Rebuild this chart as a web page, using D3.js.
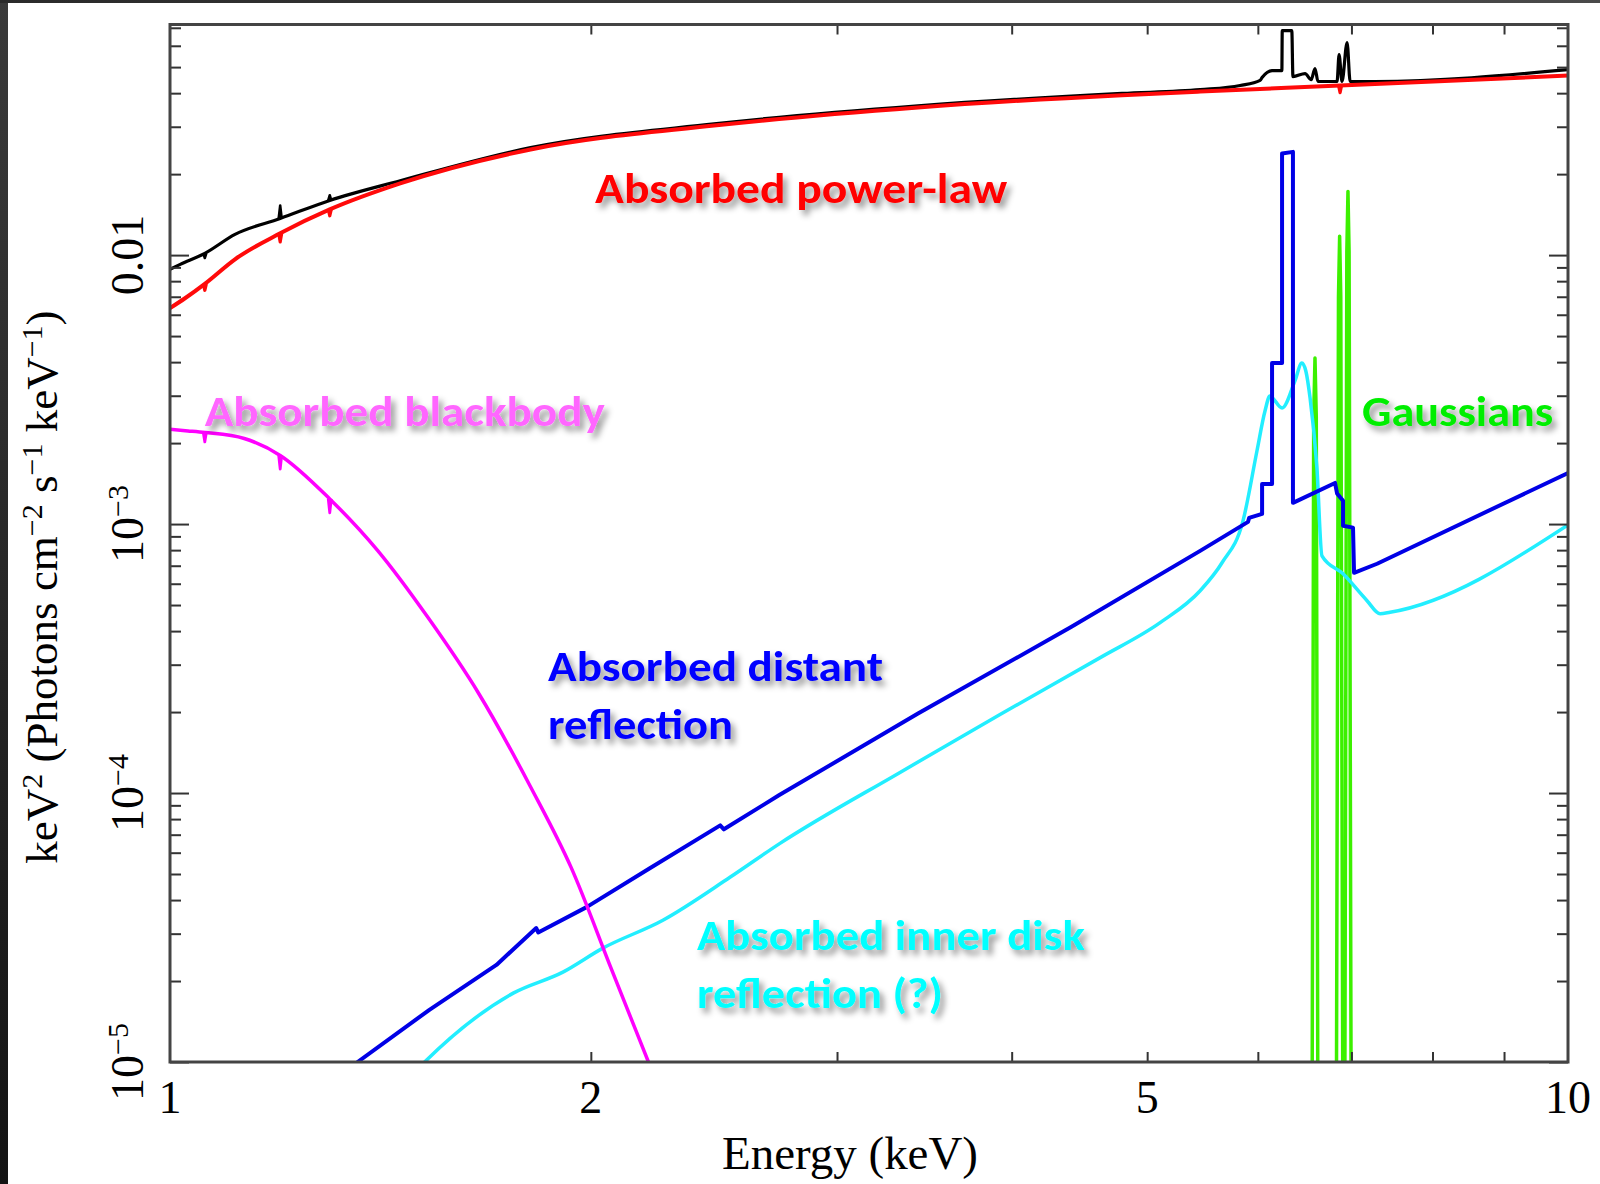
<!DOCTYPE html>
<html><head><meta charset="utf-8">
<script src="https://cdn.jsdelivr.net/npm/d3@7"></script>
<style>
html,body{margin:0;padding:0;background:#fff;}
svg{display:block;}
</style></head><body>
<svg id="chart" width="1600" height="1184"></svg>
<script>
// ---- data: [energy keV, keV^2 flux] ----
const totalModel = [
  [1.000,8.86e-3],[1.017,9.24e-3],[1.059,1.015e-2],[1.113,1.194e-2],[1.199,1.368e-2],
  [1.301,1.597e-2],[1.461,1.89e-2],[1.811,2.51e-2],[2.450,3.075e-2],[3.428,3.59e-2],
  [4.797,3.99e-2],[5.456,4.12e-2],[5.827,4.27e-2],[6.022,4.46e-2],[6.042,4.57e-2],
  [6.142,4.85e-2],[6.242,4.85e-2],[6.246,6.83e-2],[6.345,6.83e-2],[6.357,4.61e-2],
  [6.485,4.73e-2],[6.551,4.49e-2],[6.592,4.94e-2],[6.625,4.42e-2],[6.836,4.42e-2],
  [6.859,5.56e-2],[6.892,4.42e-2],[6.950,6.17e-2],[6.985,4.42e-2],[7.278,4.42e-2],[10.0,4.89e-2]
];
const totalNotches = [[1.059,1.015e-2,0.975e-2],[1.199,1.368e-2,1.53e-2],[1.301,1.597e-2,1.67e-2]];
const powerLaw = [
  [1.000,6.35e-3],[1.025,6.91e-3],[1.059,7.82e-3],[1.113,9.65e-3],[1.199,1.205e-2],
  [1.301,1.478e-2],[1.461,1.847e-2],[1.811,2.47e-2],[2.450,3.03e-2],[3.428,3.54e-2],
  [4.797,3.93e-2],[5.456,4.055e-2],[6.870,4.27e-2],[10.0,4.65e-2]
];
const powerLawNotches = [[1.059,7.82e-3,7.40e-3],[1.199,1.205e-2,1.12e-2],[1.301,1.478e-2,1.40e-2],[6.870,4.27e-2,4.02e-2]];
const blackbody = [
  [1.000,2.25e-3],[1.030,2.22e-3],[1.059,2.19e-3],[1.130,2.08e-3],[1.199,1.80e-3],
  [1.301,1.24e-3],[1.407,8.0e-4],[1.530,4.48e-4],[1.664,2.33e-4],[1.810,1.06e-4],
  [1.936,5.29e-5],[2.070,2.2e-5],[2.199,1.0e-5],[2.26,7.0e-6]
];
const blackbodyNotches = [[1.059,2.19e-3,2.02e-3],[1.199,1.80e-3,1.60e-3],[1.301,1.24e-3,1.10e-3]];
const distantRefl = [
  [1.340,8.8e-6],[1.362,1.0e-5],[1.533,1.563e-5],[1.712,2.296e-5],[1.828,3.148e-5],[1.834,3.03e-5],
  [1.986,3.765e-5],[2.204,5.25e-5],[2.475,7.58e-5],[2.490,7.33e-5],[2.728,9.83e-5],
  [3.428,1.975e-4],[4.411,4.14e-4],[5.456,7.95e-4],[5.904,1.019e-3],[5.914,1.054e-3],
  [6.042,1.091e-3],[6.042,1.41e-3],[6.142,1.41e-3],[6.142,3.97e-3],[6.244,3.97e-3],
  [6.244,2.388e-2],[6.357,2.42e-2],[6.357,1.199e-3],[6.813,1.422e-3],[6.836,1.30e-3],
  [6.904,1.22e-3],[6.904,9.85e-4],[7.018,9.7e-4],[7.030,6.59e-4],[7.302,7.12e-4],[10.0,1.549e-3]
];
const innerDiskRefl = [
  [1.500,9.3e-6],[1.521,1.0e-5],[1.760,1.803e-5],[1.910,2.158e-5],[2.040,2.65e-5],[2.252,3.366e-5],
  [2.515,4.86e-5],[2.731,6.5e-5],[3.328,1.193e-4],[3.924,1.958e-4],[4.628,3.187e-4],
  [5.108,4.30e-4],[5.456,5.65e-4],[5.656,7.18e-4],[5.855,1.028e-3],[5.991,1.869e-3],
  [6.071,2.633e-3],[6.120,2.99e-3],[6.244,2.70e-3],[6.377,3.40e-3],[6.451,3.97e-3],
  [6.494,3.70e-3],[6.539,2.94e-3],[6.613,1.617e-3],[6.668,7.62e-4],[6.904,6.53e-4],
  [7.182,5.19e-4],[7.338,4.64e-4],[7.460,4.70e-4],[10.0,9.93e-4]
];
const gaussianLines = [
  [[6.562,1.0e-5],[6.578,2.5e-3],[6.592,4.14e-3],[6.606,2.5e-3],[6.622,1.0e-5]],
  [[6.830,1.0e-5],[6.852,7.0e-3],[6.865,1.174e-2],[6.878,7.0e-3],[6.900,1.0e-5]],
  [[6.925,1.0e-5],[6.947,1.03e-2],[6.960,1.725e-2],[6.973,1.03e-2],[6.995,1.0e-5]]
];
const xTickValues = [1,2,5,10];
const xTickLabels = ["1","2","5","10"];
const yTickValues = [1e-5,1e-4,1e-3,1e-2];
const yTickBase = ["10","10","10","0.01"];
const yTickExp = ["\u22125","\u22124","\u22123",""];
const labelTexts = [
  ["Absorbed power-law"],
  ["Absorbed blackbody"],
  ["Absorbed distant","reflection"],
  ["Absorbed inner disk","reflection (?)"],
  ["Gaussians"]
];
const labelAnchors = [[2.014,1.557e-2],[1.059,2.315e-3],[1.864,2.618e-4],[2.382,2.604e-5],[7.124,2.315e-3]];

// ---- layout ----
const W=1600,H=1184;
const L=170,R=1568,T=24.5,B=1062;
const svg=d3.select("#chart");
const defs=svg.append("defs");
const gL=defs.append("linearGradient").attr("id","edgeL").attr("x1",0).attr("y1",0).attr("x2",0).attr("y2",1);
gL.append("stop").attr("offset","0%").attr("stop-color","#3a3a3a");
gL.append("stop").attr("offset","100%").attr("stop-color","#141414");
const gT=defs.append("linearGradient").attr("id","edgeT").attr("x1",0).attr("y1",0).attr("x2",1).attr("y2",0);
gT.append("stop").attr("offset","0%").attr("stop-color","#2a2a2a");
gT.append("stop").attr("offset","100%").attr("stop-color","#4a4a4a");
defs.append("clipPath").attr("id","plotClip").append("rect")
  .attr("x",L).attr("y",T).attr("width",R-L).attr("height",B-T);
const f=defs.append("filter").attr("id","shadow").attr("x","-10%").attr("y","-40%").attr("width","130%").attr("height","200%");
f.append("feGaussianBlur").attr("in","SourceAlpha").attr("stdDeviation",3.2).attr("result","b");
f.append("feOffset").attr("in","b").attr("dx",4).attr("dy",5).attr("result","o");
f.append("feFlood").attr("flood-color","#000").attr("flood-opacity",0.42).attr("result","c");
f.append("feComposite").attr("in","c").attr("in2","o").attr("operator","in").attr("result","s");
const fm=f.append("feMerge"); fm.append("feMergeNode").attr("in","s"); fm.append("feMergeNode").attr("in","SourceGraphic");

svg.append("rect").attr("width",W).attr("height",H).attr("fill","#fff");
svg.append("rect").attr("x",0).attr("y",0).attr("width",8).attr("height",H).attr("fill","url(#edgeL)");
svg.append("rect").attr("x",0).attr("y",0).attr("width",W).attr("height",3).attr("fill","url(#edgeT)");

const x=d3.scaleLog().domain([1,10]).range([L,R]);
const y=d3.scaleLog().domain([1e-5,0.072]).range([B,T]);

// ---- curves ----
const plot=svg.append("g").attr("clip-path","url(#plotClip)");
const lineLin=d3.line().x(d=>x(d[0])).y(d=>y(d[1]));
const lineSmooth=d3.line().x(d=>x(d[0])).y(d=>y(d[1])).curve(d3.curveMonotoneX);
function drawCurve(data,gen,color,w){
  plot.append("path").attr("d",gen(data)).attr("fill","none")
    .attr("stroke",color).attr("stroke-width",w).attr("stroke-linejoin","round").attr("stroke-linecap","round");
}
function drawNotches(notches,color,w){
  notches.forEach(n=>{
    plot.append("path").attr("d",lineLin([[n[0]*0.9975,n[1]],[n[0],n[2]],[n[0]*1.0025,n[1]]]))
      .attr("fill","none").attr("stroke",color).attr("stroke-width",w*0.8).attr("stroke-linejoin","round");
  });
}
gaussianLines.forEach(g=>drawCurve(g,lineLin,"#3cf000",3.5));
drawCurve(innerDiskRefl,lineSmooth,"#22eeff",3.5);
drawCurve(distantRefl,lineLin,"#0000e6",4);
drawCurve(totalModel,lineSmooth,"#000",3.2);
drawNotches(totalNotches,"#000",3.2);
drawCurve(powerLaw,lineSmooth,"#ff0a0a",4);
drawNotches(powerLawNotches,"#ff0a0a",4);
drawCurve(blackbody,lineSmooth,"#ff00ff",3.5);
drawNotches(blackbodyNotches,"#ff00ff",3.5);

// ---- axes (inward ticks) ----
const allY=y.ticks();
const minorY=allY.filter(v=>!yTickValues.some(m=>Math.abs(m-v)/m<1e-6));
const minorX=x.ticks().filter(v=>v>1&&v<10);
function styleAxis(g){ g.select(".domain").remove(); g.selectAll("line").attr("stroke","#333").attr("stroke-width",2); }
svg.append("g").attr("transform",`translate(${L},0)`).call(d3.axisRight(y).tickValues(minorY).tickSize(11).tickFormat("")).call(styleAxis);
svg.append("g").attr("transform",`translate(${L},0)`).call(d3.axisRight(y).tickValues(yTickValues).tickSize(19).tickFormat("")).call(styleAxis);
svg.append("g").attr("transform",`translate(${R},0)`).call(d3.axisLeft(y).tickValues(minorY).tickSize(11).tickFormat("")).call(styleAxis);
svg.append("g").attr("transform",`translate(${R},0)`).call(d3.axisLeft(y).tickValues(yTickValues).tickSize(19).tickFormat("")).call(styleAxis);
svg.append("g").attr("transform",`translate(0,${B})`).call(d3.axisTop(x).tickValues(minorX).tickSize(10).tickFormat("")).call(styleAxis);
svg.append("g").attr("transform",`translate(0,${T})`).call(d3.axisBottom(x).tickValues(minorX).tickSize(10).tickFormat("")).call(styleAxis);
svg.append("rect").attr("x",L).attr("y",T).attr("width",R-L).attr("height",B-T)
  .attr("fill","none").attr("stroke","#444").attr("stroke-width",3);

// ---- tick labels ----
const serif="'Liberation Serif','Times New Roman',serif";
svg.append("g").selectAll("text").data(xTickValues).join("text")
  .attr("x",d=>x(d)).attr("y",1113).attr("text-anchor","middle")
  .attr("font-family",serif).attr("font-size",46).attr("fill","#000")
  .text((d,i)=>xTickLabels[i]);
yTickValues.forEach((v,i)=>{
  const t=svg.append("text").attr("transform",`translate(143,${y(v)}) rotate(-90)`)
    .attr("text-anchor","middle").attr("font-family",serif).attr("font-size",46).attr("fill","#000");
  t.append("tspan").text(yTickBase[i]);
  if(yTickExp[i]) t.append("tspan").attr("font-size",30).attr("dy",-15).text(yTickExp[i]);
});

// ---- axis titles ----
svg.append("text").attr("x",850).attr("y",1169).attr("text-anchor","middle")
  .attr("font-family",serif).attr("font-size",46).attr("fill","#000")
  .attr("textLength",256).attr("lengthAdjust","spacingAndGlyphs").text("Energy (keV)");
const yt=svg.append("text").attr("transform","translate(57,587) rotate(-90)").attr("text-anchor","middle")
  .attr("font-family",serif).attr("font-size",45).attr("fill","#000");
const ytParts=[["keV",0],["2",1],[" (Photons cm",0],["\u22122",1],[" s",0],["\u22121",1],[" keV",0],["\u22121",1],[")",0]];
let lvl=0;
ytParts.forEach(p=>{
  const ts=yt.append("tspan").text(p[0]);
  if(p[1]&&!lvl){ts.attr("font-size",30).attr("dy",-15);lvl=1;}
  else if(!p[1]&&lvl){ts.attr("dy",15);lvl=0;}
  else if(p[1]) ts.attr("font-size",30);
});

// ---- annotations ----
const sans="Carlito,Lato,'Open Sans',sans-serif";
const labelColors=["#ff0000","#ff66ff","#0000ff","#00ffff","#00ee00"];
const labelWidths=[[412],[400],[335,185],[388,246],[191]];
labelTexts.forEach((lines,i)=>{
  const a=labelAnchors[i];
  lines.forEach((s,j)=>{
    svg.append("text").attr("x",x(a[0])).attr("y",y(a[1])+58*j)
      .attr("font-family",sans).attr("font-weight","bold").attr("font-size",42)
      .attr("fill",labelColors[i]).attr("filter","url(#shadow)")
      .attr("textLength",labelWidths[i][j]).attr("lengthAdjust","spacingAndGlyphs")
      .text(s);
  });
});
</script>
</body></html>
